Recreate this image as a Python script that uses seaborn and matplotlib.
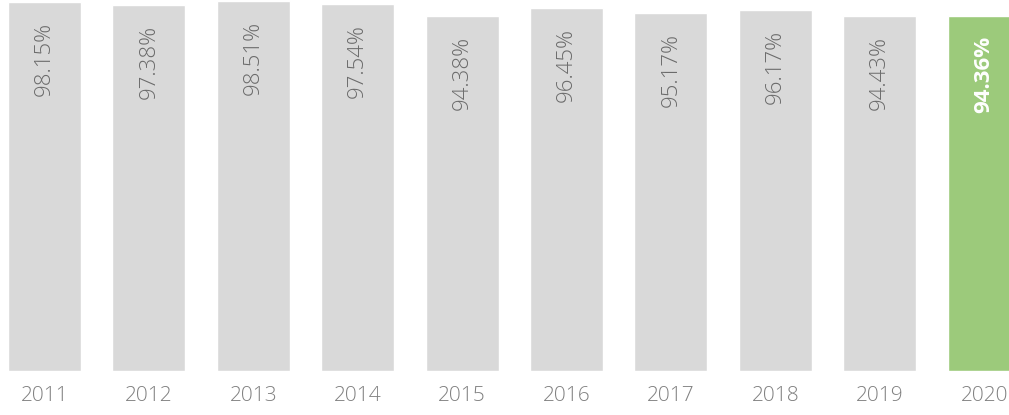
import matplotlib
matplotlib.use("Agg")
import matplotlib.pyplot as plt
import seaborn as sns
import pandas as pd

# Annual rates per year; the latest year is highlighted
years = ["2011", "2012", "2013", "2014", "2015", "2016", "2017", "2018", "2019", "2020"]
rates = [98.15, 97.38, 98.51, 97.54, 94.38, 96.45, 95.17, 96.17, 94.43, 94.36]
highlight_year = "2020"

sns.set_theme(style="white")
plt.rcParams["font.family"] = ["Open Sans", "DejaVu Sans"]

W, H = 1009, 415
fig = plt.figure(figsize=(W / 100, H / 100), dpi=100)
ax = fig.add_axes([0, 44 / H, 1, 371 / H])

df = pd.DataFrame({"year": years, "rate": rates})
palette = {y: ("#9cca7b" if y == highlight_year else "#d9d9d9") for y in years}
sns.barplot(data=df, x="year", y="rate", hue="year", palette=palette,
            saturation=1, width=0.70, legend=False, ax=ax)

ax.set_xlim(-0.426, 9.238)
ax.set_ylim(0, 98.7)

for i, (y, r) in enumerate(zip(years, rates)):
    hl = y == highlight_year
    ax.annotate(f"{r:.2f}%", xy=(i, r), xytext=(0, -20), textcoords="offset pixels",
                rotation=90, ha="center", va="top", fontsize=16,
                color="white" if hl else "#6b6b6b",
                fontweight="bold" if hl else "light")

for s in ax.spines.values():
    s.set_visible(False)
ax.set_yticks([])
ax.set_xlabel("")
ax.set_ylabel("")
ax.tick_params(axis="x", length=0, pad=10.5, labelsize=15, labelcolor="#808080")
for t in ax.get_xticklabels():
    t.set_fontweight("light")

fig.savefig("out.png", dpi=100)
